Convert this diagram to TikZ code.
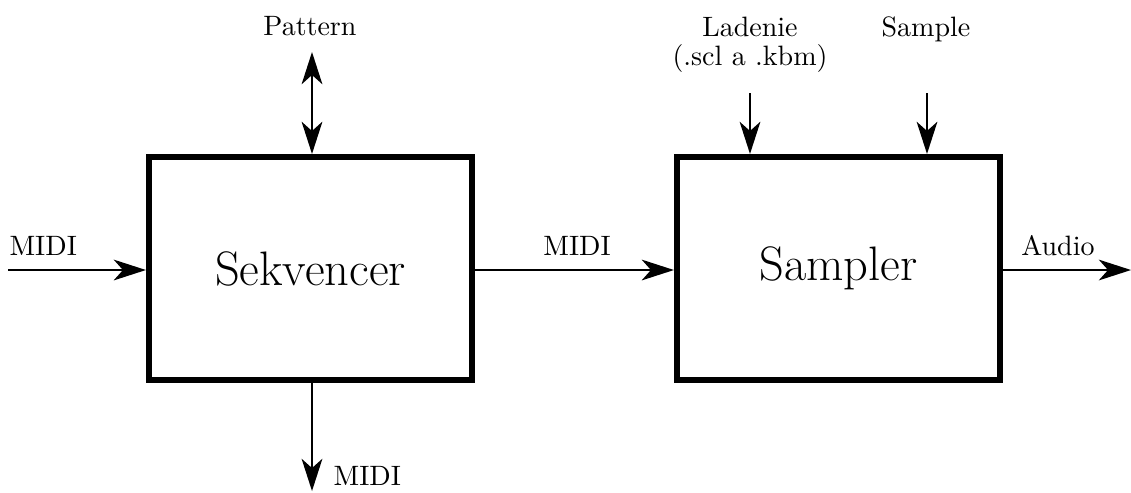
\documentclass[tikz,border=0pt]{standalone}
\usetikzlibrary{arrows.meta,calc}
\begin{document}
\begin{tikzpicture}[x=0.357pt,y=-0.357pt,
  blockbox/.style={draw, line width=2.2pt, minimum width=115.3pt, minimum height=79.6pt, inner sep=0pt, font=\LARGE},
  tip/.style={Stealth[length=11.5pt,width=7.4pt,inset=3.3pt]},
  conn/.style={line width=0.75pt, -{Stealth[length=11.5pt,width=7.4pt,inset=3.3pt]}},
  dconn/.style={line width=0.75pt, {Stealth[length=11.5pt,width=7.4pt,inset=3.3pt]}-{Stealth[length=11.5pt,width=7.4pt,inset=3.3pt]}},
  lbl/.style={inner sep=0pt}]
\useasboundingbox (0,0) rectangle (1131,492);
\node[blockbox] (seq) at (310.5,268.5) {Sekvencer};
\node[blockbox] (smp) at (838.5,268.5) {Sampler};
% free ends
\coordinate (inL) at (8,270);
\coordinate (outR) at (1131,270);
\coordinate (patT) at (312,52);
\coordinate (midB) at (312,491);
\coordinate (ladT) at (750,93);
\coordinate (samT) at (927,93);
% connectors
\draw[conn] (inL) -- (inL -| seq.west);
\draw[conn] (seq.east |- 0,270) -- (smp.west |- 0,270);
\draw[conn] (smp.east |- 0,270) -- (outR);
\draw[dconn] (patT) -- (patT |- seq.north);
\draw[conn] (midB |- seq.south) -- (midB);
\draw[conn] (ladT) -- (ladT |- smp.north);
\draw[conn] (samT) -- (samT |- smp.north);
% labels
\node[lbl, anchor=base west] (l1) at (9,255) {MIDI};
\node[lbl, anchor=base] (l2) at (577,255) {MIDI};
\node[lbl, anchor=base] (l3) at (1058,255) {Audio};
\node[lbl, anchor=base] (l4) at (310,35) {Pattern};
\node[lbl, anchor=base west] (l5) at (333,485) {MIDI};
\node[lbl, anchor=base] (l6) at (750,36) {Ladenie};
\node[lbl, anchor=base] (l7) at (750,65) {(.scl a .kbm)};
\node[lbl, anchor=base] (l8) at (926,36) {Sample};
\end{tikzpicture}
\end{document}
